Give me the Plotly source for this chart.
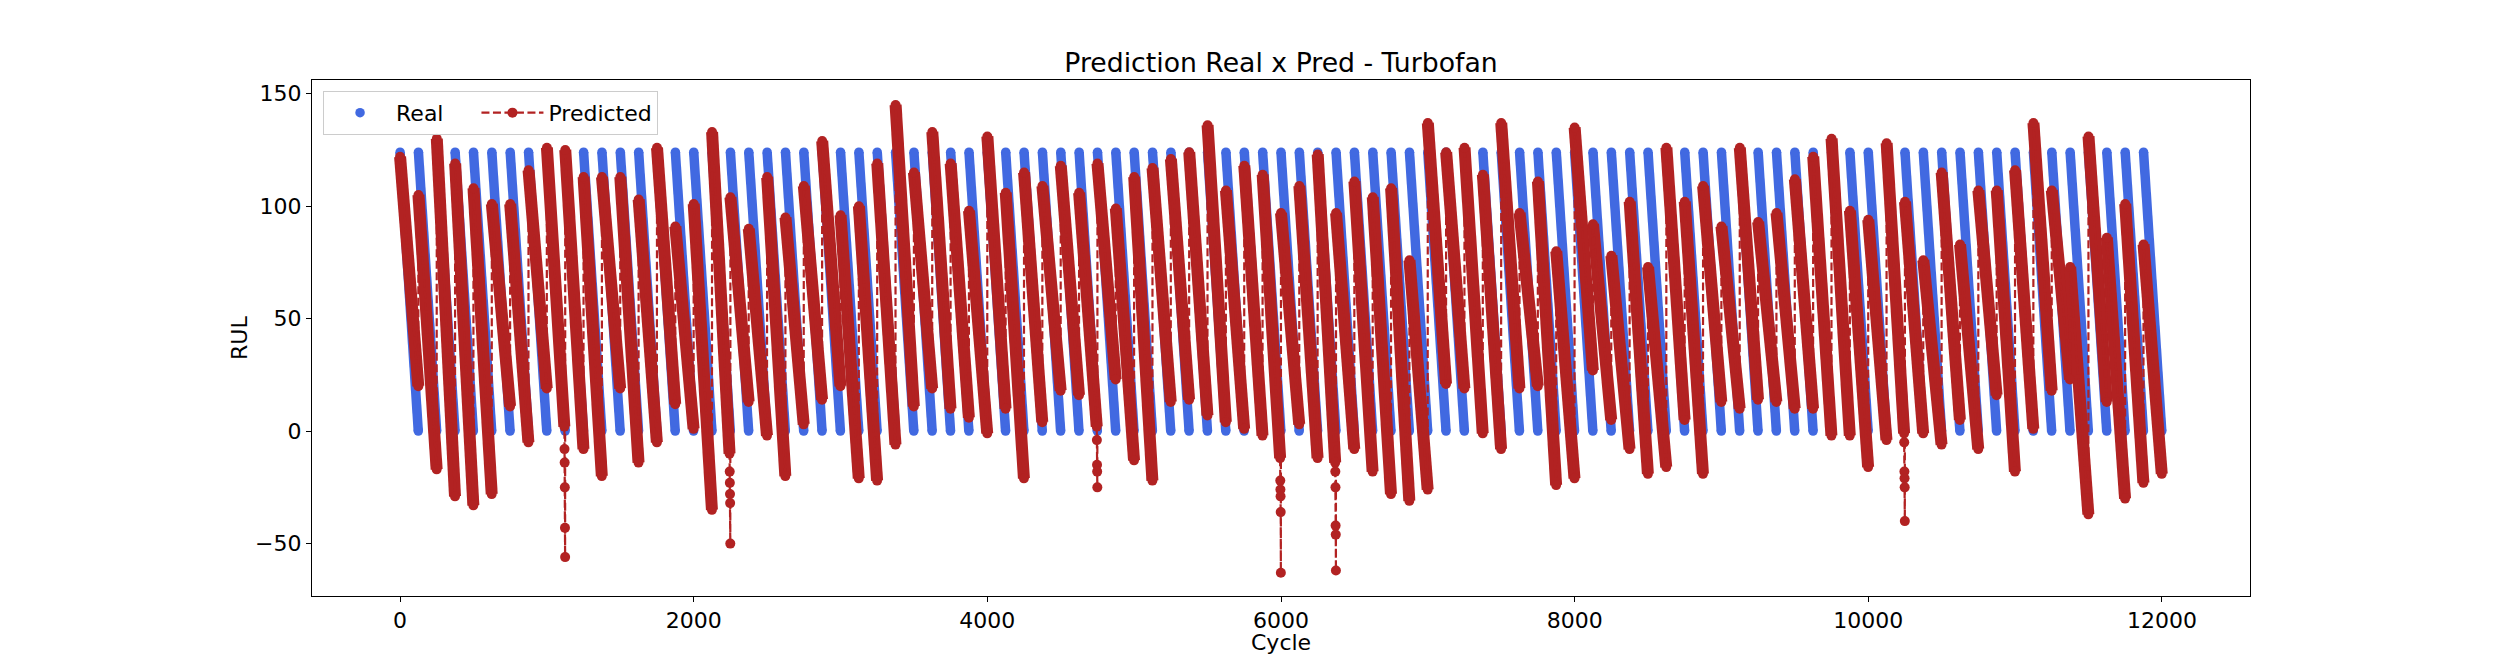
import plotly.graph_objects as go

# real RUL: every engine is a straight ramp from the cap down to 0
cycle_len = 125
rul_cap = 124

# predicted RUL, one value per engine:
# first prediction of the engine and the last one of the dense band
pred_start = [122, 105, 130, 119, 108, 101, 101, 116, 126, 125,
              113, 113, 113, 103, 126, 91, 101, 133, 104, 90,
              113, 95, 109, 129, 96, 100, 119, 145, 115, 133,
              119, 98, 131, 106, 115, 109, 118, 106, 119, 99,
              113, 117, 121, 124, 136, 107, 118, 114, 97, 109,
              123, 97, 111, 104, 108, 76, 137, 124, 126, 114,
              137, 97, 111, 80, 135, 92, 78, 102, 73, 126,
              102, 109, 91, 126, 93, 97, 112, 122, 130, 98,
              94, 128, 102, 76, 115, 83, 107, 107, 116, 137,
              107, 73, 131, 86, 101, 83]
pred_end = [20, -17, -29, -33, -28, 11, -5, 19, 2, -8,
            -20, 19, -14, -5, 12, 1, -35, -10, 13, -2,
            -20, 3, 14, 20, -21, -22, -6, 11, 19, 10,
            6, -1, 10, -21, 4, 18, 16, 2, 23, -13,
            -22, 13, 14, 7, 4, 1, -2, -12, 3, -12,
            -14, -8, -18, -28, -31, -26, 21, 19, -1, -8,
            19, 20, -24, -21, 27, 5, -8, -19, -16, 5,
            -19, 13, 10, 14, 13, 10, 10, -2, -2, -16,
            -4, -1, -1, -6, 5, -8, 16, -18, 1, 18,
            23, -37, 13, -30, -23, -19]
# engines whose last few predictions fall away below the band (one per cycle)
tail_engines = [8, 17, 37, 47, 50, 81]
tail_values = [[-8, -14, -25, -43, -56],
               [-18, -23, -28, -32, -50],
               [-4, -15, -18, -25],
               [-22, -26, -29, -36, -63],
               [-18, -25, -42, -46, -62],
               [-5, -18, -21, -25, -40]]

x_ticks = [0, 2000, 4000, 6000, 8000, 10000, 12000]
y_ticks = [-50, 0, 50, 100, 150]

blue = "#4169E1"
red = "#B22222"
font = "DejaVu Sans"

tails = dict(zip(tail_engines, tail_values))
real_x, real_y = [], []
band_x, band_y = [], []
pred_x, pred_y = [], []
for k, (top, low) in enumerate(zip(pred_start, pred_end)):
    s = k * cycle_len
    e = s + cycle_len - 1
    real_x += [s, e, None]
    real_y += [rul_cap, 0, None]
    tail = tails.get(k, [])
    be = e - len(tail)
    band_x += [s, be, None]
    band_y += [top, low, None]
    pred_x += [s, be]
    pred_y += [top, low]
    for i, v in enumerate(tail):
        pred_x.append(be + i + 1)
        pred_y.append(v)

fig = go.Figure()
fig.add_trace(go.Scatter(x=real_x, y=real_y, mode="lines", showlegend=False,
                         line=dict(color=blue, width=9.5), hoverinfo="skip"))
# trailing no-break spaces only widen the legend entry like matplotlib's columns
fig.add_trace(go.Scatter(x=[v for v in real_x if v is not None],
                         y=[v for v in real_y if v is not None],
                         mode="markers", name="Real" + "\u00a0" * 4,
                         marker=dict(color=blue, size=9.5)))
fig.add_trace(go.Scatter(x=band_x, y=band_y, mode="lines", showlegend=False,
                         line=dict(color=red, width=12), hoverinfo="skip"))
fig.add_trace(go.Scatter(x=pred_x, y=pred_y, mode="lines+markers", name="Predicted",
                         line=dict(color=red, width=2.2, dash="8px,3.5px"),
                         marker=dict(color=red, size=10)))

axis = dict(showline=True, mirror=True, linecolor="black", linewidth=1.1,
            ticks="outside", ticklen=5, tickwidth=1.1, tickcolor="black",
            showgrid=False, zeroline=False,
            tickfont=dict(family=font, size=22, color="black"))

fig.update_layout(
    width=2500, height=670, autosize=False,
    margin=dict(l=312, r=250, t=80, b=74),
    paper_bgcolor="white", plot_bgcolor="white",
    font=dict(family=font, size=22, color="black"),
    title=dict(text="Prediction Real x Pred - Turbofan", x=0.5, xref="paper",
               xanchor="center", y=0.893, yref="container", yanchor="bottom",
               font=dict(family=font, size=26.7, color="black")),
    xaxis=dict(axis, range=[-600, 12600], tickvals=x_ticks,
               ticktext=[str(t) for t in x_ticks]),
    yaxis=dict(axis, range=[-73.3, 156.1], tickvals=y_ticks),
    legend=dict(orientation="h", x=0.0057, y=0.979, xanchor="left", yanchor="top",
                itemwidth=62,
                bgcolor="rgba(255,255,255,0.8)", bordercolor="#cccccc", borderwidth=1,
                font=dict(family=font, size=22, color="black")),
)

# axis titles placed like matplotlib's labelpad
fig.add_annotation(text="Cycle", xref="paper", yref="paper", x=0.5, y=-0.091,
                   xanchor="center", yanchor="middle", showarrow=False,
                   font=dict(family=font, size=22, color="black"))
fig.add_annotation(text="RUL", xref="paper", yref="paper", x=-0.0377, y=0.5,
                   xanchor="center", yanchor="middle", textangle=-90, showarrow=False,
                   font=dict(family=font, size=22, color="black"))

fig.write_html("out.html", config={"displayModeBar": False},
               post_script="document.body.style.margin='0';")
